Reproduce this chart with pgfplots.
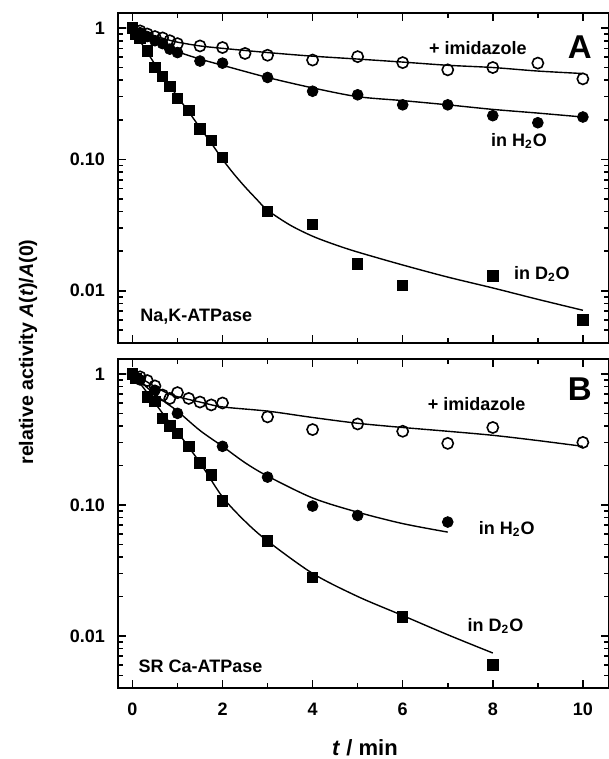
\documentclass[border=0pt]{standalone}
\usepackage{fontspec}
\setmainfont{Liberation Sans}
\usepackage{pgfplots}
\pgfplotsset{compat=1.18}

\pgfplotsset{
  mypanel/.style={
    scale only axis, width=245.5pt,
    xmin=-0.32, xmax=10.58, ymin=0.004, ymax=1.3,
    xtick={0,2,...,10}, minor xtick={1,3,...,9},
    ytick={0.01,0.1,1}, yticklabels={0.01,0.10,1},
    minor ytick={0.005,0.006,0.007,0.008,0.009,0.02,0.03,0.04,0.05,0.06,0.07,0.08,0.09,0.2,0.3,0.4,0.5,0.6,0.7,0.8,0.9},
    tick align=inside, major tick length=4pt, minor tick length=2.5pt,
    axis line style={line width=1pt}, tick style={line width=0.8pt, black},
    every tick label/.append style={font=\bfseries\fontsize{9}{10}\selectfont},
    yticklabel style={xshift=-3pt},
    xticklabel style={yshift=-4pt},
    clip=false,
  },
}
\tikzset{
  myfit/.style={black, line width=0.7pt, smooth, mark=none},
  myopn/.style={only marks, mark=o, mark size=2.8pt, mark options={line width=0.8pt, fill=white, draw=black}},
  myfil/.style={only marks, mark=*, mark size=2.7pt, black},
  mysq/.style={only marks, mark=square*, mark size=2.6pt, black},
  mylbl/.style={font=\bfseries\fontsize{9}{10}\selectfont},
}

\begin{document}
\begin{tikzpicture}
\path[use as bounding box] (0,0) rectangle (304.5pt,-379.5pt);

% panel A: Na,K-ATPase
\begin{semilogyaxis}[mypanel, height=165pt, at={(59pt,-6.5pt)}, anchor=north west, xticklabels={},
  /pgf/number format/assume math mode=true]
\addplot[myfit] coordinates {(0,1) (0.25,0.93) (0.5,0.87) (0.75,0.82) (1,0.78) (1.5,0.73) (2,0.70) (3,0.65) (4,0.61) (5,0.58) (6,0.55) (7,0.52) (8,0.50) (9,0.47) (10,0.45)};
\addplot[myfit] coordinates {(0,1) (0.25,0.9) (0.5,0.81) (0.75,0.73) (1,0.66) (1.5,0.58) (2,0.52) (3,0.42) (4,0.35) (5,0.30) (6,0.28) (7,0.26) (8,0.24) (9,0.225) (10,0.21)};
\addplot[myfit] coordinates {(0,1) (0.25,0.72) (0.5,0.53) (0.75,0.40) (1,0.30) (1.25,0.23) (1.5,0.174) (1.75,0.133) (2,0.100) (2.25,0.0776) (2.5,0.0617) (2.75,0.050) (3,0.041) (3.5,0.0316) (4,0.026) (4.5,0.0224) (5,0.0197) (6,0.0157) (7,0.0127) (8,0.0105) (9,0.0086) (10,0.0071)};
\addplot[mysq] coordinates {(0,1.0) (0.07,0.9) (0.17,0.83) (0.33,0.67) (0.5,0.50) (0.67,0.43) (0.83,0.36) (1.0,0.29) (1.25,0.235) (1.5,0.17) (1.75,0.14) (2,0.103) (3,0.040) (4,0.032) (5,0.016) (6,0.011) (8,0.013) (10,0.006)};
\addplot[myfil] coordinates {(0,1.0) (0.17,0.92) (0.33,0.86) (0.5,0.80) (0.67,0.76) (0.83,0.69) (1.0,0.65) (1.5,0.56) (2,0.54) (3,0.42) (4,0.33) (5,0.31) (6,0.26) (7,0.26) (8,0.215) (9,0.19) (10,0.21)};
\addplot[myopn] coordinates {(0.17,0.95) (0.33,0.9) (0.5,0.86) (0.67,0.84) (0.83,0.80) (1.0,0.76) (1.5,0.73) (2,0.71) (2.5,0.64) (3,0.62) (4,0.57) (5,0.605) (6,0.545) (7,0.48) (8,0.50) (9,0.54) (10,0.41)};
\node[mylbl] at (axis cs:7.67,0.70) {+ imidazole};
\node[mylbl] at (axis cs:8.58,0.138) {in H$_\mathbf{2}$O};
\node[mylbl] at (axis cs:9.09,0.0134) {in D$_\mathbf{2}$O};
\node[mylbl, anchor=west, inner sep=0pt] at (axis cs:0.17,0.0063) {Na,K-ATPase};
\node[font=\bfseries\fontsize{16.5}{18}\selectfont] at (axis cs:9.93,0.71) {A};
\end{semilogyaxis}

% panel B: SR Ca-ATPase
\begin{semilogyaxis}[mypanel, height=164.5pt, at={(59pt,-179.5pt)}, anchor=north west,
  /pgf/number format/assume math mode=true]
\addplot[myfit] coordinates {(0,1) (0.25,0.9) (0.5,0.8) (0.75,0.72) (1,0.67) (1.5,0.61) (2,0.56) (3,0.52) (4,0.465) (5,0.42) (6,0.39) (7,0.365) (8,0.34) (9,0.31) (10,0.28)};
\addplot[myfit] coordinates {(0,1) (0.25,0.83) (0.5,0.70) (0.75,0.60) (1,0.52) (1.5,0.37) (2,0.28) (2.5,0.21) (3,0.166) (4,0.113) (5,0.088) (6,0.072) (7,0.062)};
\addplot[myfit] coordinates {(0,1) (0.25,0.78) (0.5,0.6) (0.75,0.46) (1,0.36) (1.5,0.21) (2,0.115) (2.5,0.075) (3,0.053) (4,0.030) (5,0.020) (6,0.0143) (7,0.0102) (8,0.0074)};
\addplot[mysq] coordinates {(0,1.0) (0.08,0.92) (0.33,0.67) (0.5,0.62) (0.67,0.46) (0.83,0.40) (1.0,0.35) (1.25,0.28) (1.5,0.21) (1.75,0.17) (2,0.107) (3,0.053) (4,0.028) (6,0.014) (8,0.006)};
\addplot[myfil] coordinates {(0,1.0) (0.17,0.9) (0.5,0.75) (1,0.50) (2,0.28) (3,0.163) (4,0.098) (5,0.083) (7,0.074)};
\addplot[myopn] coordinates {(0.17,0.95) (0.33,0.89) (0.5,0.81) (0.67,0.69) (0.83,0.65) (1.0,0.72) (1.25,0.65) (1.5,0.61) (1.75,0.58) (2,0.60) (3,0.47) (4,0.376) (5,0.415) (6,0.365) (7,0.295) (8,0.39) (10,0.30)};
\node[mylbl] at (axis cs:7.64,0.59) {+ imidazole};
\node[mylbl] at (axis cs:8.31,0.0656) {in H$_\mathbf{2}$O};
\node[mylbl] at (axis cs:8.06,0.0119) {in D$_\mathbf{2}$O};
\node[mylbl, anchor=west, inner sep=0pt] at (axis cs:0.13,0.0059) {SR Ca-ATPase};
\node[font=\bfseries\fontsize{16.5}{18}\selectfont] at (axis cs:9.93,0.77) {B};
\end{semilogyaxis}

\node[font=\bfseries\fontsize{11}{12}\selectfont] at (182.5pt,-374pt) {\textit{t} / min};
\node[rotate=90, font=\bfseries\fontsize{9.8}{11}\selectfont] at (14pt,-176pt) {relative activity \textit{A}(\textit{t})/\textit{A}(0)};
\end{tikzpicture}
\end{document}
